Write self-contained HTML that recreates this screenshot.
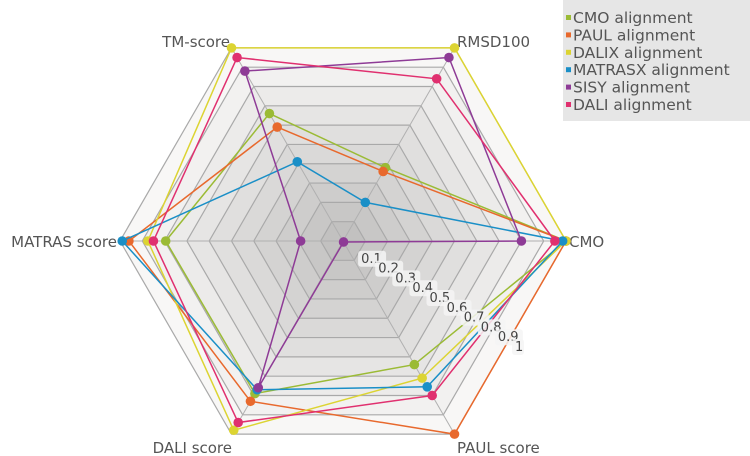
<!DOCTYPE html>
<html><head><meta charset="utf-8"><style>
html,body{margin:0;padding:0;background:#fff;width:750px;height:456px;overflow:hidden}
svg{display:block;font-family:"DejaVu Sans","Liberation Sans",sans-serif}
</style></head><body>
<svg id="chart" width="750" height="456" viewBox="0 0 750 456" xmlns="http://www.w3.org/2000/svg">
<g id="grid"></g>
<g id="axes"></g>
<g id="series"></g>
<g id="ticks"></g>
<g id="legend"></g>
</svg>
<script>
const axisNames = ["CMO","RMSD100","TM-score","MATRAS score","DALI score","PAUL score"];
const tickLabels = ["0.1","0.2","0.3","0.4","0.5","0.6","0.7","0.8","0.9","1"];
const seriesNames = ["CMO alignment","PAUL alignment","DALIX alignment","MATRASX alignment","SISY alignment","DALI alignment"];
const seriesColors = ["#9bbb35","#e8692d","#dcd432","#1a8fc7","#8e3b96","#e0306f"];
const cmoValues    = [1.0, 0.38, 0.66, 0.795, 0.79, 0.64];
const paulValues   = [1.0, 0.36, 0.59, 0.96, 0.83, 1.0];
const dalixValues  = [1.0, 1.0, 1.0, 0.875, 0.98, 0.71];
const matrasxValues= [0.985, 0.2, 0.41, 0.99, 0.77, 0.755];
const sisyValues   = [0.8, 0.95, 0.88, 0.19, 0.76, 0.005];
const daliValues   = [0.95, 0.84, 0.95, 0.85, 0.94, 0.80];
const allValues = [cmoValues,paulValues,dalixValues,matrasxValues,sisyValues,daliValues];

const NS="http://www.w3.org/2000/svg";
const cx=343, cy=241, R=223;
function ang(i){return -i*Math.PI/3;}
function pt(i,v){return [cx+R*v*Math.cos(ang(i)), cy+R*v*Math.sin(ang(i))];}
function mk(tag,attrs,parent){const e=document.createElementNS(NS,tag);for(const k in attrs)e.setAttribute(k,attrs[k]);parent.appendChild(e);return e;}

const grid=document.getElementById('grid');
for(let k=tickLabels.length;k>=1;k--){
  const v=k/tickLabels.length;
  const pts=axisNames.map((_,i)=>pt(i,v).join(',')).join(' ');
  const shade=Math.round(248-(10-k)*6);
  const p=mk('polygon',{points:pts,fill:`rgb(${shade},${shade-1},${shade-2})`,stroke:'#a9a9a9','stroke-width':1.2},grid);
  
  
}
axisNames.forEach((n,i)=>{
  const [x,y]=pt(i,1);
  const l=mk('line',{x1:cx,y1:cy,x2:x,y2:y,stroke:'#b0b0b0','stroke-width':1},grid);
  
  
});

const axesG=document.getElementById('axes');
const labelPos=[[569,247,'start'],[457,47,'start'],[230,47,'end'],[117,247,'end'],[232,453,'end'],[457,453,'start']];
axisNames.forEach((n,i)=>{
  const t=mk('text',{x:labelPos[i][0],y:labelPos[i][1],'text-anchor':labelPos[i][2],'font-size':15,fill:'#555'},axesG);
  t.textContent=n;
  
  
});

const sg=document.getElementById('series');
allValues.forEach((vals,s)=>{
  const g=mk('g',{},sg);
  
  
  const pts=vals.map((v,i)=>pt(i,v).join(',')).join(' ');
  mk('polygon',{points:pts,fill:'none',stroke:seriesColors[s],'stroke-width':1.5},g);
  vals.forEach((v,i)=>{
    const [x,y]=pt(i,v);
    const c=mk('circle',{cx:x,cy:y,r:4.8,fill:seriesColors[s]},g);
    
    
  });
});

const tg=document.getElementById('ticks');
tickLabels.forEach((lab,k)=>{
  const v=(k+1)/tickLabels.length;
  const x=cx+171*v+1, y=cy+98*v+12;
  const w=lab.length*8+4;
  const r=mk('rect',{x:x-3,y:y-12,width:w,height:16,rx:3,fill:'rgba(245,245,245,0.85)'},tg);
  
  
  const t=mk('text',{x:x,y:y,'font-size':13,fill:'#444'},tg);
  t.textContent=lab;
  
  
});

const lg=document.getElementById('legend');
const bg=mk('rect',{x:563,y:0,width:187,height:121,fill:'#e6e6e6'},lg);


seriesNames.forEach((n,s)=>{
  const y=23+s*17.4;
  const g=mk('g',{},lg);
  
  
  mk('rect',{x:566,y:y-8,width:5,height:5,fill:seriesColors[s]},g);
  const t=mk('text',{x:573,y:y,'font-size':15.5,fill:'#555'},g);
  t.textContent=n;
});
</script>
</body></html>
